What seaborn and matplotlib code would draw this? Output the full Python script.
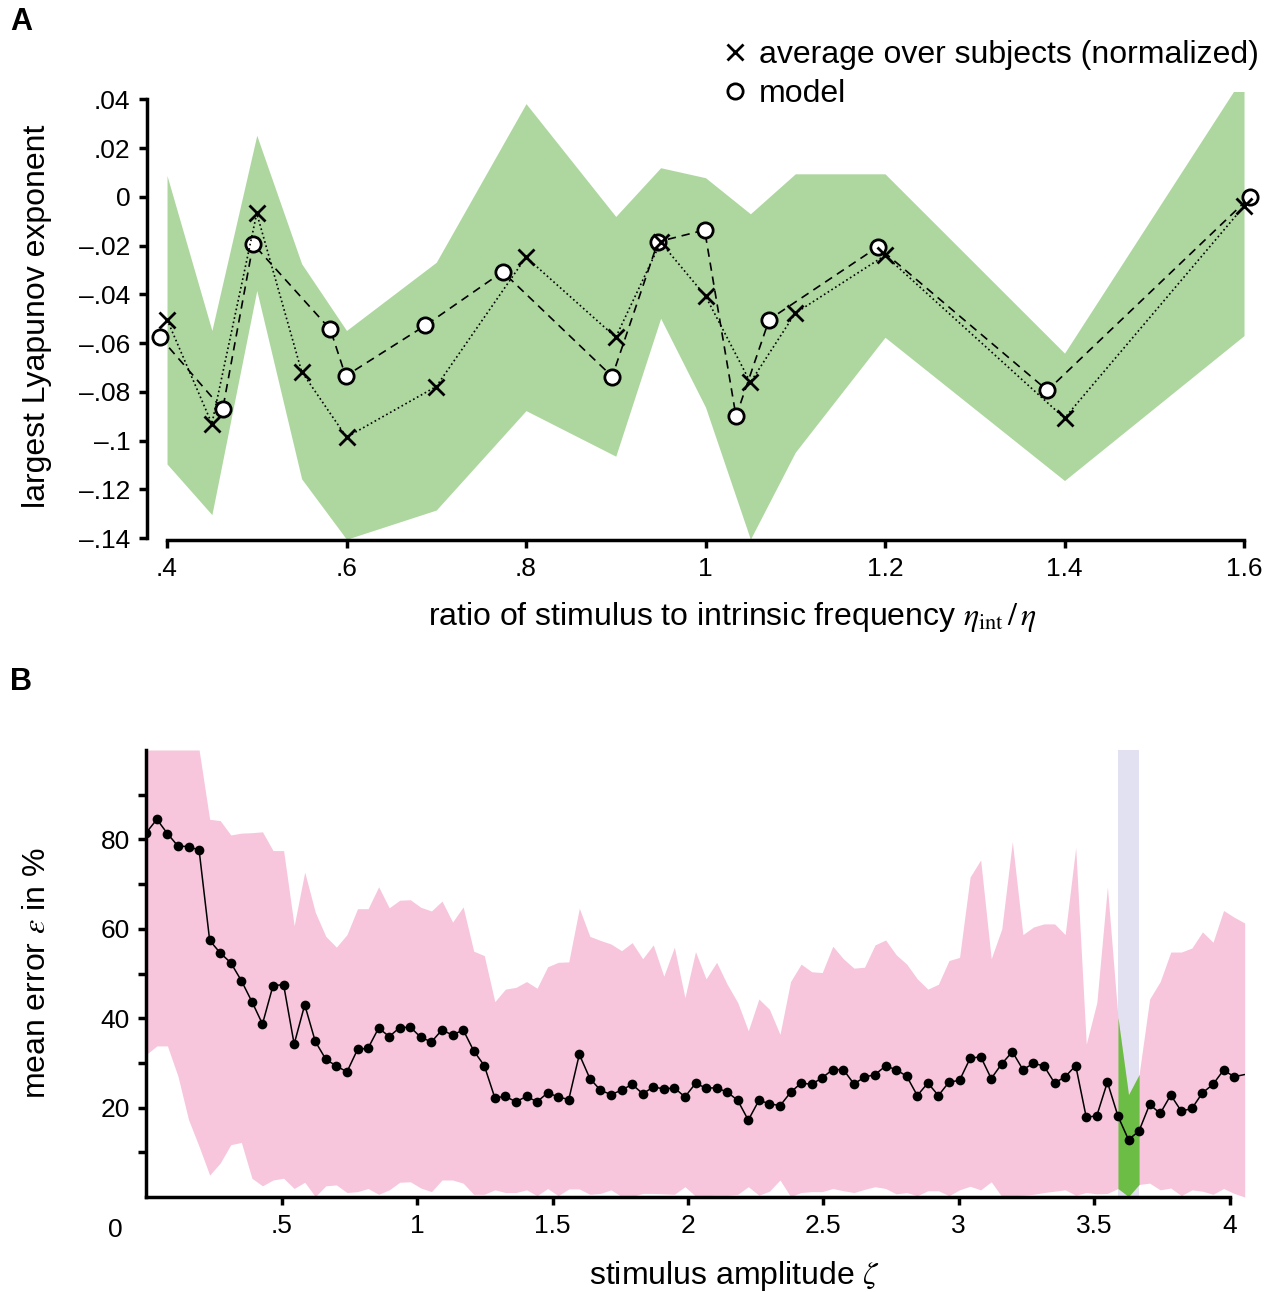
import numpy as np
import pandas as pd
import matplotlib
matplotlib.use("Agg")
import matplotlib.pyplot as plt
import seaborn as sns
from matplotlib.lines import Line2D

# ---------------- Panel A data ----------------
ratio_subj = [0.40, 0.45, 0.50, 0.55, 0.60, 0.70, 0.80, 0.90, 0.95, 1.00, 1.05, 1.10, 1.20, 1.40, 1.60]
lyap_subj = [-0.0503, -0.0931, -0.0067, -0.0717, -0.0986, -0.0778, -0.0247, -0.0576, -0.0186,
             -0.0407, -0.0761, -0.0477, -0.0240, -0.0908, -0.0038]
band_upper = [0.0088, -0.0548, 0.0253, -0.0274, -0.0548, -0.0268, 0.0383, -0.0080, 0.0120,
              0.0079, -0.0069, 0.0095, 0.0095, -0.0641, 0.0500]
band_lower = [-0.1096, -0.1304, -0.0384, -0.1157, -0.1405, -0.1285, -0.0877, -0.1064, -0.0498,
              -0.0863, -0.1405, -0.1048, -0.0576, -0.1164, -0.0569]
ratio_model = [0.392, 0.462, 0.496, 0.582, 0.599, 0.688, 0.774, 0.896, 0.947, 0.999, 1.034,
               1.071, 1.192, 1.381, 1.607]
lyap_model = [-0.0575, -0.0872, -0.0193, -0.0544, -0.0735, -0.0527, -0.0307, -0.0737, -0.0184,
              -0.0136, -0.0901, -0.0503, -0.0205, -0.0794, 0.0001]
xticks_a = [0.4, 0.6, 0.8, 1.0, 1.2, 1.4, 1.6]
xticklabels_a = [".4", ".6", ".8", "1", "1.2", "1.4", "1.6"]
yticks_a = [-0.14, -0.12, -0.10, -0.08, -0.06, -0.04, -0.02, 0.0, 0.02, 0.04]
yticklabels_a = ["\u2013.14", "\u2013.12", "\u2013.1", "\u2013.08", "\u2013.06", "\u2013.04",
                 "\u2013.02", "0", ".02", ".04"]

# ---------------- Panel B data ----------------
amp_step = 0.039
mean_err = [81.5, 84.5, 81.3, 78.5, 78.4, 77.6, 57.4, 54.6, 52.4, 48.4,
            43.7, 38.7, 47.3, 47.5, 34.2, 43.0, 34.8, 30.8, 29.3, 28.0,
            33.0, 33.3, 37.8, 35.9, 37.9, 38.0, 35.7, 34.7, 37.4, 36.2,
            37.4, 32.7, 29.4, 22.2, 22.5, 21.3, 22.5, 21.3, 23.3, 22.4,
            21.8, 31.9, 26.5, 23.9, 22.9, 23.9, 25.2, 23.1, 24.6, 24.2,
            24.4, 22.4, 25.4, 24.4, 24.4, 23.5, 21.6, 17.2, 21.6, 20.9,
            20.4, 23.4, 25.5, 25.2, 26.7, 28.5, 28.5, 25.3, 26.8, 27.4,
            29.3, 28.5, 27.0, 22.7, 25.5, 22.7, 25.7, 26.1, 31.0, 31.4,
            26.5, 29.8, 32.5, 28.5, 29.9, 29.3, 25.5, 26.9, 29.4, 17.8,
            18.2, 25.7, 18.1, 12.8, 14.8, 20.7, 18.7, 22.8, 19.2, 19.8,
            23.3, 25.2, 28.4, 26.9, 27.4]
err_upper = [100, 100, 100, 100, 100, 100, 84.5, 84.2, 81.0, 81.4,
             81.5, 81.7, 77.5, 77.5, 60.7, 72.7, 63.7, 58.3, 55.9, 58.7,
             64.5, 64.5, 69.4, 64.7, 66.4, 66.5, 64.8, 64.0, 66.2, 61.5,
             64.9, 55.0, 54.0, 43.7, 46.5, 46.9, 48.2, 46.7, 51.5, 52.5,
             52.6, 64.6, 58.3, 57.4, 56.6, 55.1, 56.9, 53.3, 56.4, 49.4,
             55.9, 44.6, 54.9, 48.8, 52.5, 47.6, 43.5, 37.2, 44.3, 42.0,
             36.4, 48.2, 52.1, 50.4, 50.2, 56.1, 53.3, 51.2, 51.4, 56.4,
             57.5, 54.2, 52.1, 48.8, 46.5, 47.6, 52.9, 53.6, 71.6, 75.4,
             53.3, 60.0, 79.5, 58.7, 60.4, 61.1, 61.1, 58.7, 78.2, 34.2,
             43.5, 69.4, 40.2, 22.9, 27.4, 44.3, 48.2, 54.8, 54.8, 55.7,
             59.3, 57.0, 64.1, 62.6, 61.3]
err_lower = [31.9, 33.8, 33.8, 27.0, 17.3, 11.3, 4.9, 7.6, 11.7, 12.2,
             4.2, 2.5, 3.8, 4.2, 1.9, 3.3, 0.1, 2.5, 2.7, 1.0,
             1.2, 1.9, 0.6, 1.6, 3.3, 3.4, 2.0, 1.2, 3.8, 3.8,
             3.1, 0.6, 0.6, 1.6, 1.0, 1.0, 1.6, 0.3, 1.9, 0.3,
             1.8, 1.8, 0.6, 0.8, 1.6, 0.1, 0.1, 0.8, 0.8, 0.7,
             0.6, 2.3, 0.2, 0.3, 0.4, 0.4, 0.6, 2.3, 0.4, 1.3,
             3.8, 0.1, 1.0, 1.2, 1.2, 1.9, 1.4, 1.0, 1.7, 2.3,
             1.9, 0.7, 1.0, 0.3, 1.4, 1.4, 0.3, 1.6, 2.4, 1.6,
             3.4, 0.1, 0.3, 0.4, 0.6, 1.0, 1.3, 1.6, 0.4, 1.0,
             0.7, 0.8, 1.9, 0.1, 2.8, 3.1, 1.6, 2.0, 0.3, 1.6,
             1.3, 0.6, 1.9, 0.8, 0.0]
best_idx = [92, 93, 94]          # highlighted region (green)
xticks_b = [0.5, 1.0, 1.5, 2.0, 2.5, 3.0, 3.5, 4.0]
xticklabels_b = [".5", "1", "1.5", "2", "2.5", "3", "3.5", "4"]
yticks_b = [10, 20, 30, 40, 50, 60, 70, 80, 90]
yticklabels_b = ["", "20", "", "40", "", "60", "", "80", ""]

# colours
GREEN_BAND = "#aed7a0"
PINK = "#f7c6dc"
LAVENDER = "#e2e1f1"
GREEN_HI = "#6bbd46"

sns.set_theme(style="ticks")
plt.rcParams["font.family"] = ["Liberation Sans", "DejaVu Sans"]
plt.rcParams["mathtext.fontset"] = "stix"
plt.rcParams["axes.unicode_minus"] = False
for key in ["text.color", "axes.labelcolor", "xtick.color", "ytick.color",
            "xtick.labelcolor", "ytick.labelcolor"]:
    plt.rcParams[key] = "black"

W, H = 1269, 1292
fig = plt.figure(figsize=(W / 100, H / 100), dpi=100)

TICK_FS = 19
LABEL_FS = 23

def style_axes(ax):
    for s in ["top", "right"]:
        ax.spines[s].set_visible(False)
    for s in ["left", "bottom"]:
        ax.spines[s].set_linewidth(2.5)
        ax.spines[s].set_color("black")
    ax.tick_params(axis="both", direction="out", length=6, width=2.5, color="black",
                   labelsize=TICK_FS, pad=6, labelcolor="black")
    ax.set_facecolor("white")
    ax.grid(False)

# ---------------- Panel A ----------------
axA = fig.add_axes([147 / W, (H - 540) / H, (1253 - 147) / W, (540 - 91.7) / H])
style_axes(axA)
axA.fill_between(ratio_subj, band_lower, band_upper, color=GREEN_BAND, linewidth=0, zorder=1)

df_model = pd.DataFrame({"ratio": ratio_model, "lyap": lyap_model})
df_subj = pd.DataFrame({"ratio": ratio_subj, "lyap": lyap_subj})
sns.lineplot(data=df_model, x="ratio", y="lyap", ax=axA, color="black", linewidth=1.2,
             linestyle=(0, (5, 3.5)), marker="o", markersize=11, markerfacecolor="white",
             markeredgecolor="black", markeredgewidth=2.0, errorbar=None, zorder=3,
             clip_on=False)
sns.lineplot(data=df_subj, x="ratio", y="lyap", ax=axA, color="black", linewidth=1.2,
             linestyle=":", marker="x", markersize=12, markeredgecolor="black",
             markeredgewidth=2.0, errorbar=None, zorder=4, clip_on=False)
axA.set_xlim(0.3777, 1.61)
axA.set_ylim(-0.1408, 0.0432)
axA.spines["left"].set_bounds(-0.14, 0.04)
axA.spines["bottom"].set_bounds(0.4, 1.6)
axA.set_xticks(xticks_a)
axA.set_xticklabels(xticklabels_a)
axA.set_yticks(yticks_a)
axA.set_yticklabels(yticklabels_a)
axA.set_xlabel(r"ratio of stimulus to intrinsic frequency $\eta_{\mathrm{int}}\,/\,\eta$",
               fontsize=LABEL_FS)
axA.set_ylabel("largest Lyapunov exponent", fontsize=LABEL_FS)
axA.xaxis.set_label_coords(0.529, -0.134)
axA.yaxis.set_label_coords(-0.086, 0.5)

handles = [Line2D([], [], marker="x", color="black", linestyle="none", markersize=12,
                  markeredgewidth=2.0),
           Line2D([], [], marker="o", color="black", linestyle="none", markersize=11,
                  markerfacecolor="white", markeredgewidth=2.0)]
fig.legend(handles, ["average over subjects (normalized)", "model"], loc="upper right",
           bbox_to_anchor=(1259 / W, 1 - 40 / H), frameon=False, fontsize=LABEL_FS,
           handlelength=0.8, handletextpad=0.36, labelspacing=0.28, borderpad=0,
           borderaxespad=0)

# ---------------- Panel B ----------------
axB = fig.add_axes([146.3 / W, (H - 1197) / H, 1098.4 / W, 447 / H])
style_axes(axB)
amp = np.arange(len(mean_err)) * amp_step
lo, hi = amp[best_idx[0]], amp[best_idx[-1]]
axB.axvspan(lo, hi, color=LAVENDER, linewidth=0, zorder=0.5)
axB.fill_between(amp, err_lower, err_upper, color=PINK, linewidth=0, zorder=1)
axB.fill_between(amp[best_idx], np.array(err_lower)[best_idx], np.array(err_upper)[best_idx],
                 color=GREEN_HI, linewidth=0, zorder=1.5)
df_err = pd.DataFrame({"amp": amp, "err": mean_err})
sns.lineplot(data=df_err, x="amp", y="err", ax=axB, color="black", linewidth=1.1,
             marker="o", markersize=7, markeredgecolor="black", markeredgewidth=0,
             markevery=list(range(len(mean_err) - 1)), errorbar=None, zorder=3)
axB.set_xlim(0, amp[-1])
axB.set_ylim(0, 100)
axB.spines["left"].set_bounds(0, 100)
axB.spines["bottom"].set_bounds(0, 4.0)
axB.set_xticks(xticks_b)
axB.set_xticklabels(xticklabels_b)
axB.set_yticks(yticks_b)
axB.set_yticklabels(yticklabels_b)
axB.set_xlabel(r"stimulus amplitude $\zeta$", fontsize=LABEL_FS)
axB.set_ylabel(r"mean error $\varepsilon$ in %", fontsize=LABEL_FS)
axB.xaxis.set_label_coords(0.536, -0.138)
axB.yaxis.set_label_coords(-0.086, 0.5)
fig.text(115 / W, 1 - 1230 / H, "0", fontsize=TICK_FS, ha="center", va="center")

# panel letters
fig.text(10 / W, 1 - 22 / H, "A", fontsize=22, fontweight="bold", ha="left", va="center")
fig.text(10 / W, 1 - 682 / H, "B", fontsize=22, fontweight="bold", ha="left", va="center")

fig.savefig("out.png", dpi=100, facecolor="white")
